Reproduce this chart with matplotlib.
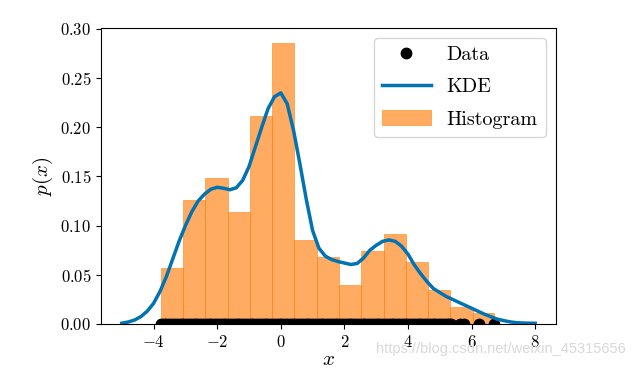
import numpy as np
import matplotlib
matplotlib.use("Agg")
import matplotlib.pyplot as plt

plt.rcParams["mathtext.fontset"] = "cm"
plt.rcParams["font.family"] = "serif"
plt.rcParams["font.serif"] = ["cmr10"]
plt.rcParams["axes.formatter.use_mathtext"] = True

# histogram: bin edges and counts (250 samples)
hist_edges = [-3.77, -3.07, -2.37, -1.67, -0.97, -0.27, 0.43, 1.13,
              1.83, 2.53, 3.23, 3.93, 4.63, 5.33, 6.03, 6.72]
hist_counts = [10, 22, 26, 20, 37, 50, 15, 12, 7, 13, 16, 11, 6, 3, 2]

# KDE curve
kde_x = [-5.0, -4.8, -4.6, -4.4, -4.2, -4.0, -3.8, -3.6, -3.4, -3.2,
         -3.0, -2.8, -2.6, -2.4, -2.2, -2.0, -1.8, -1.6, -1.4, -1.2,
         -1.0, -0.8, -0.6, -0.4, -0.2, 0.0, 0.2, 0.4, 0.6, 0.8,
         1.0, 1.2, 1.4, 1.6, 1.8, 2.0, 2.2, 2.4, 2.6, 2.8,
         3.0, 3.2, 3.4, 3.6, 3.8, 4.0, 4.2, 4.4, 4.6, 4.8,
         5.0, 5.2, 5.4, 5.6, 5.8, 6.0, 6.2, 6.4, 6.6, 6.8,
         7.0, 7.2, 7.4, 7.6, 7.8, 8.0]
kde_y = [0.0008, 0.002, 0.004, 0.0075, 0.013, 0.021, 0.033, 0.048, 0.066, 0.084,
         0.100, 0.114, 0.125, 0.132, 0.137, 0.139, 0.138, 0.1365, 0.1385, 0.146,
         0.160, 0.180, 0.200, 0.219, 0.231, 0.235, 0.224, 0.197, 0.163, 0.127,
         0.095, 0.077, 0.069, 0.0655, 0.0635, 0.062, 0.0605, 0.0615, 0.067, 0.075,
         0.080, 0.084, 0.0855, 0.084, 0.079, 0.071, 0.060, 0.051, 0.043, 0.036,
         0.032, 0.028, 0.025, 0.022, 0.019, 0.016, 0.013, 0.010, 0.0075, 0.005,
         0.0035, 0.0022, 0.0014, 0.001, 0.0008, 0.0007]

# observed samples (rug along the x axis)
data_x = [-3.77, -3.68, -3.6, -3.5, -3.41, -3.33, -3.24, -3.15, -3.06, -2.97,
          -2.88, -2.8, -2.71, -2.62, -2.53, -2.44, -2.36, -2.27, -2.18, -2.09,
          -2.0, -1.91, -1.83, -1.74, -1.65, -1.56, -1.47, -1.39, -1.3, -1.21,
          -1.12, -1.03, -0.95, -0.86, -0.77, -0.68, -0.59, -0.5, -0.42, -0.33,
          -0.24, -0.15, -0.06, 0.02, 0.11, 0.2, 0.29, 0.38, 0.46, 0.55,
          0.64, 0.73, 0.82, 0.9, 0.99, 1.08, 1.17, 1.26, 1.34, 1.43,
          1.52, 1.61, 1.7, 1.78, 1.87, 1.96, 2.05, 2.14, 2.22, 2.31,
          2.4, 2.49, 2.58, 2.66, 2.75, 2.84, 2.93, 3.02, 3.1, 3.19,
          3.28, 3.37, 3.46, 3.54, 3.63, 3.72, 3.81, 3.9, 3.98, 4.07,
          4.16, 4.25, 4.34, 4.42, 4.51, 4.6, 4.69, 4.78, 4.86, 4.95,
          5.04, 5.13, 5.22, 5.3, 5.36, 5.62, 5.75, 6.22, 6.72]

hist_centers = [(a + b) / 2 for a, b in zip(hist_edges[:-1], hist_edges[1:])]

fig = plt.figure(figsize=(6.36, 3.68), dpi=100)
ax = fig.add_axes([0.159, 0.1196, 0.715, 0.8044])

ax.plot(data_x, np.zeros(len(data_x)), "o", color="black", ms=7.5, label="Data")
ax.plot(kde_x, kde_y, color="#0173b2", lw=2.5, label="KDE")
ax.hist(hist_centers, bins=hist_edges, weights=hist_counts, density=True,
        color="#ff7f0e", alpha=0.65, edgecolor="#ff7f0e", lw=0.6,
        label="Histogram")

ax.set_ylim(0, 0.301)
ax.set_xticks([-4, -2, 0, 2, 4, 6, 8])
ax.set_yticks([0.0, 0.05, 0.10, 0.15, 0.20, 0.25, 0.30])
ax.yaxis.set_major_formatter(plt.FuncFormatter(lambda v, p: "$%.2f$" % v))
ax.xaxis.set_major_formatter(plt.FuncFormatter(lambda v, p: "$%d$" % v))
ax.tick_params(labelsize=12)
ax.set_xlabel("$x$", fontsize=15, labelpad=1)
ax.set_ylabel("$p(x)$", fontsize=15)
ax.legend(loc="upper right", fontsize=14.5, handlelength=2.4, labelspacing=0.7)

fig.text(0.984, 0.052, "https://blog.csdn.net/weixin_45315656",
         family="Liberation Sans", fontsize=10.5, color="#d9d9d9",
         ha="right", va="center")

fig.savefig("out.png", dpi=100)
